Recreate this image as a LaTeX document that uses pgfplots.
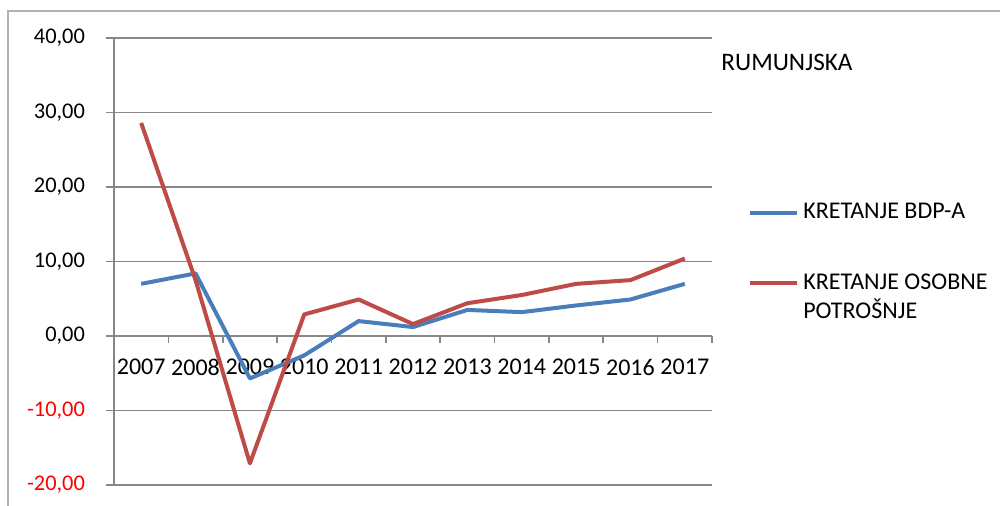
\documentclass[border=0pt]{standalone}
\usepackage{pgfplots}
\usepackage{pgfplotstable}
\pgfplotsset{compat=1.18}
\usepackage{fontspec}
\setmainfont{Carlito}
\definecolor{cblue}{HTML}{4A7EBB}
\definecolor{cred}{HTML}{BE4B48}
\definecolor{gridgray}{HTML}{878787}
\pgfplotstableread{
x bdp pot
1 7.0 28.6
2 8.4 7.5
3 -5.7 -17.1
4 -2.6 2.9
5 2.0 4.9
6 1.2 1.6
7 3.5 4.4
8 3.2 5.5
9 4.1 7.0
10 4.9 7.5
11 7.0 10.4
}\data
\begin{document}
\begin{tikzpicture}[x=1pt,y=1pt]
\useasboundingbox (0,0) rectangle (500,-253);
\draw[color=gray!60, line width=0.7pt] (4,-253) -- (4,-5.5) -- (500,-5.5);
\begin{axis}[
 at={(57pt,-242.5pt)}, anchor=south west,
 scale only axis, width=299pt, height=223.5pt,
 xmin=0.5, xmax=11.5, ymin=-20, ymax=40,
 axis x line*=middle, axis y line*=left,
 axis line style={gridgray, line width=0.8pt, -},
 xtick={1,...,11},
 xticklabels={2007,2008,2009,2010,2011,2012,2013,2014,2015,2016,2017},
 minor xtick={0.5,1.5,...,11.5},
 major x tick style={draw=none},
 minor x tick style={gridgray, line width=0.8pt},
 ytick={-20,-10,...,40},
 yticklabels={{\textcolor{red}{-20,00}},{\textcolor{red}{-10,00}},{0,00},{10,00},{20,00},{30,00},{40,00}},
 y tick style={gridgray, line width=0.8pt},
 tick align=outside,
 major tick length=4pt, minor tick length=3.5pt,
 ymajorgrids, grid style={gridgray, line width=0.8pt},
 yticklabel style={font=\fontsize{11.2pt}{13pt}\selectfont, xshift=-7pt},
 xticklabel style={font=\fontsize{12pt}{14pt}\selectfont, yshift=-4pt},
 legend style={at={(axis description cs:1.06,0.64)}, anchor=north west, draw=none, fill=none,
   inner sep=0pt, font=\fontsize{12pt}{14.5pt}\selectfont, row sep=22pt, column sep=0pt},
 legend cell align=left,
 legend style={cells={align=left}},
 legend image code/.code={\draw[#1] (0pt,0pt) -- (23.5pt,0pt);},
 clip=false,
]
\addplot[cblue, line width=2pt, line join=round] table[x=x, y=bdp] {\data};
\addlegendentry{KRETANJE BDP-A}
\addplot[cred, line width=2pt, line join=round,
  legend image code/.code={\draw[cred, line width=2pt] (0pt,7.25pt) -- (23.5pt,7.25pt);}] table[x=x, y=pot] {\data};
\addlegendentry{KRETANJE OSOBNE\\POTROŠNJE}
\end{axis}
\node[anchor=west, font=\fontsize{12.6pt}{15pt}\selectfont, inner sep=0pt] at (360.5,-31) {RUMUNJSKA};
\end{tikzpicture}
\end{document}
